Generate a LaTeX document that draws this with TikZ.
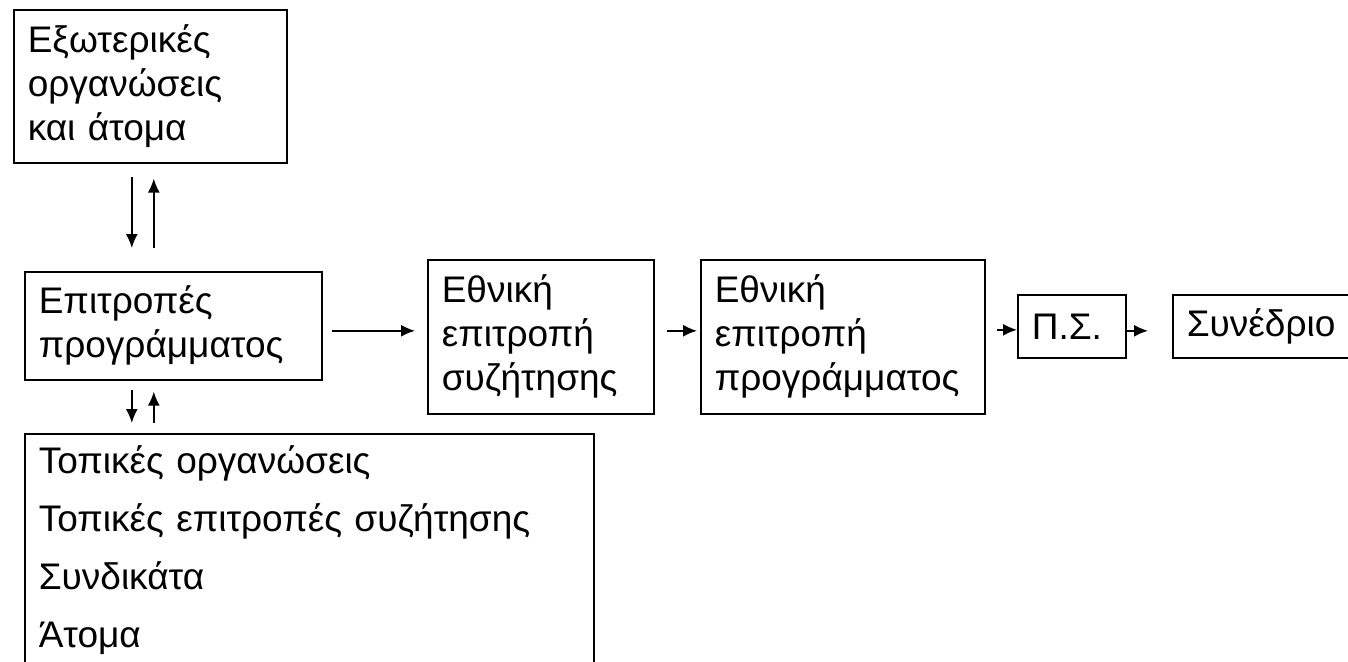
\documentclass[tikz,border=0pt]{standalone}
\usepackage{fontspec}
\setmainfont{Liberation Sans}
\usetikzlibrary{arrows.meta}
\tikzstyle{block}=[draw, line width=1.6pt, anchor=north west, align=left, inner xsep=14pt, inner ysep=0pt, font=\fontsize{37}{44}\selectfont]
\tikzstyle{edge}=[draw, line width=1.6pt, -{Latex[length=14pt,width=12pt]}]

\begin{document}
\begin{tikzpicture}[x=1pt, y=-1pt]
    \useasboundingbox (0,0) rectangle (1348,661);
    \clip (0,0) rectangle (1348,661);
    % First we draw the boxes
    \node[block, text width=245pt, minimum height=153pt] (ext) at (13,9) {Εξωτερικές\\οργανώσεις\\και άτομα};
    \node[block, text width=269pt, minimum height=108pt] (prog) at (24,271) {Επιτροπές\\προγράμματος};
    \node[block, text width=541pt, minimum height=232pt, font=\fontsize{37}{58}\selectfont] (local) at (24,433)
        {Τοπικές οργανώσεις\\Τοπικές επιτροπές συζήτησης\\Συνδικάτα\\Άτομα};
    \node[block, text width=198pt, minimum height=154pt] (nat1) at (427,259) {Εθνική\\επιτροπή\\συζήτησης};
    \node[block, text width=256pt, minimum height=154pt] (nat2) at (700,259) {Εθνική\\επιτροπή\\προγράμματος};
    \node[block, text width=80pt, minimum height=63pt] (ps) at (1017,294) {Π.Σ.};
    \node[block, text width=172pt, minimum height=63pt] (syn) at (1172,294) {Συνέδριο};

    % up and down between the left boxes
    \draw[edge, shorten <=13pt, shorten >=23pt] ([xshift=-18.5pt]ext.south) -- ([xshift=-41.5pt]prog.north);
    \draw[edge, shorten <=23pt, shorten >=15pt] ([xshift=-19.5pt]prog.north) -- ([xshift=3.5pt]ext.south);
    \draw[edge, shorten <=9pt, shorten >=10pt] ([xshift=-41.5pt]prog.south) -- ([xshift=-177.5pt]local.north);
    \draw[edge, shorten <=10pt, shorten >=11pt] ([xshift=-155.5pt]local.north) -- ([xshift=-19.5pt]prog.south);

    % Connect the boxes left to right
    \foreach \source/\dest/\ya/\yb/\sa/\sb in {prog/nat1/-5/6/9/12, nat1/nat2/6/6/12/3, nat2/ps/7/-3.5/11/0, ps/syn/-4.5/-4.5/0/24}
        \draw[edge, shorten <=\sa pt, shorten >=\sb pt] ([yshift=\ya pt]\source.east) -- ([yshift=\yb pt]\dest.west);
\end{tikzpicture}
\end{document}
